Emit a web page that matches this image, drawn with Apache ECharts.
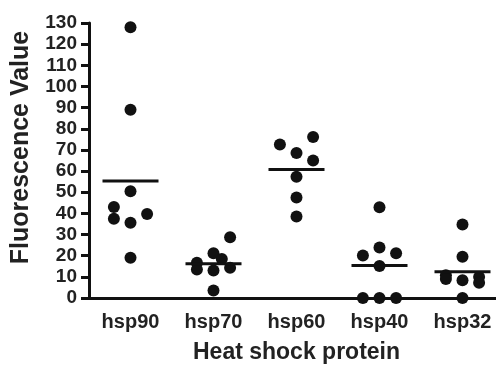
<!DOCTYPE html>
<html>
<head>
<meta charset="utf-8">
<script src="https://cdn.jsdelivr.net/npm/echarts@6/dist/echarts.min.js"></script>
<style>html,body{margin:0;padding:0;background:#fff;}#c{width:496px;height:367px;}</style>
</head>
<body>
<div id="c"></div>
<script>
var categories = ['hsp90', 'hsp70', 'hsp60', 'hsp40', 'hsp32'];
var hsp90 = [128, 89, 50.5, 43, 37.5, 39.7, 35.6, 19];
var hsp90Jit = [0, 0, 0, -0.2, -0.2, 0.2, 0, 0];
var hsp70 = [28.7, 21.1, 18.4, 16.7, 13.5, 13, 14.3, 3.6];
var hsp70Jit = [0.2, 0, 0.1, -0.2, -0.2, 0, 0.2, 0];
var hsp60 = [72.6, 76.1, 68.6, 65, 57.3, 47.5, 38.5];
var hsp60Jit = [-0.2, 0.2, 0, 0.2, 0, 0, 0];
var hsp40 = [42.9, 23.9, 20.1, 21.1, 15.1, 0, 0, 0];
var hsp40Jit = [0, 0, -0.2, 0.2, 0, -0.2, 0, 0.2];
var hsp32 = [34.7, 19.5, 10.7, 9, 8.4, 9.9, 7.2, 0];
var hsp32Jit = [0, 0, -0.2, -0.2, 0, 0.2, 0.2, 0];
var yTicks = [0, 10, 20, 30, 40, 50, 60, 70, 80, 90, 100, 110, 120, 130];

var groups = [[hsp90, hsp90Jit], [hsp70, hsp70Jit], [hsp60, hsp60Jit], [hsp40, hsp40Jit], [hsp32, hsp32Jit]];
var pts = [], means = [];
groups.forEach(function (g, i) {
  var s = 0;
  g[0].forEach(function (v, j) { pts.push([i + g[1][j], v]); s += v; });
  means.push([i, s / g[0].length]);
});

var font = '"Liberation Sans", Arial, Helvetica, sans-serif';
var chart = echarts.init(document.getElementById('c'), null, {renderer: 'canvas'});
chart.setOption({
  animation: false,
  grid: {left: 89, width: 415, top: 23, height: 275, outerBoundsMode: 'none', containLabel: false},
  xAxis: [{
    type: 'category', data: categories, boundaryGap: true,
    axisLine: {onZero: false, lineStyle: {color: '#111', width: 3}},
    axisTick: {alignWithLabel: true, length: 7, lineStyle: {color: '#111', width: 3}},
    axisLabel: {color: '#222', fontFamily: font, fontWeight: 'bold', fontSize: 20, margin: 14},
    name: 'Heat shock protein', nameLocation: 'middle', nameGap: 43,
    nameTextStyle: {color: '#222', fontFamily: font, fontWeight: 'bold', fontSize: 23}
  }, {
    type: 'value', min: -0.5, max: 4.5, show: false
  }],
  yAxis: {
    type: 'value', min: yTicks[0], max: yTicks[yTicks.length - 1], interval: 10,
    splitLine: {show: false},
    axisLine: {show: true, onZero: false, lineStyle: {color: '#111', width: 3}},
    axisTick: {show: true, length: 8, lineStyle: {color: '#111', width: 3}},
    axisLabel: {color: '#222', fontFamily: font, fontWeight: 'bold', fontSize: 19, margin: 12},
    name: 'Fluorescence Value', nameLocation: 'middle', nameGap: 55,
    nameTextStyle: {color: '#222', fontFamily: font, fontWeight: 'bold', fontSize: 25, padding: [0, 0, 0, 26]}
  },
  series: [{
    type: 'scatter', xAxisIndex: 1, data: pts, symbol: 'circle', symbolSize: 12,
    itemStyle: {color: '#111', opacity: 1}
  }, {
    type: 'scatter', xAxisIndex: 1, data: means, symbol: 'rect', symbolSize: [56, 3],
    itemStyle: {color: '#111', opacity: 1}, z: 3
  }]
});
</script>
</body>
</html>
